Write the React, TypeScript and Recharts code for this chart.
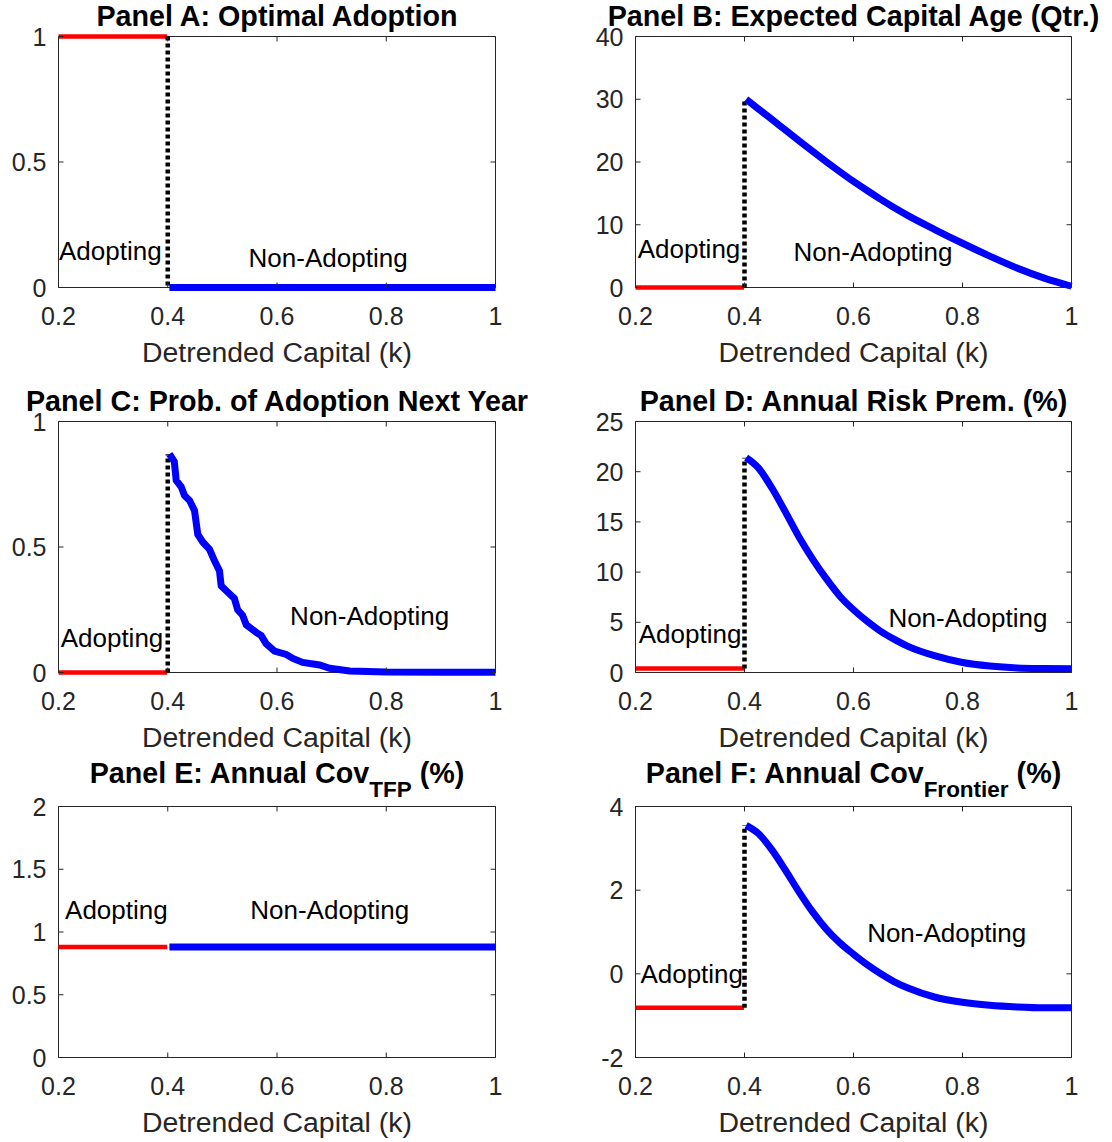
import React from "react";
import { LineChart, Line, XAxis, YAxis, ReferenceArea, ReferenceDot } from "recharts";

// x axis (detrended capital)
const kTicks = [0.2, 0.4, 0.6, 0.8, 1];
const adoptK = [0.2, 0.399];
const jumpK = [0.4, 0.4];
const nonAdoptK = [0.403, 0.425, 0.45, 0.475, 0.5, 0.525, 0.55, 0.575, 0.6, 0.625, 0.65, 0.675, 0.7, 0.75, 0.8, 0.85, 0.9, 0.95, 1];

// Panel A: optimal adoption
const adoptingA = [1, 1];
const jumpA = [1, 0];
const nonAdoptingA = [0, 0, 0, 0, 0, 0, 0, 0, 0, 0, 0, 0, 0, 0, 0, 0, 0, 0, 0];

// Panel B: expected capital age (quarters)
const adoptingB = [0, 0];
const jumpB = [0, 30];
const nonAdoptingB = [30.0, 28.5, 26.8, 25.1, 23.4, 21.7, 20.05, 18.45, 16.9, 15.45, 14.05, 12.7, 11.45, 9.2, 7.05, 5.0, 3.1, 1.5, 0.2];

// Panel C: prob. of adoption next year (own k grid, step-like)
const adoptingC = [0, 0];
const jumpC = [0, 0.87];
const probK = [0.403, 0.4063, 0.412, 0.4155, 0.4246, 0.4307, 0.44, 0.449, 0.455, 0.464, 0.4766, 0.4856, 0.4947, 0.4978, 0.51, 0.522, 0.528, 0.537, 0.5437, 0.562, 0.571, 0.58, 0.5955, 0.617, 0.629, 0.647, 0.678, 0.6965, 0.733, 0.8, 0.9, 1];
const nonAdoptingC = [0.87, 0.86, 0.84, 0.765, 0.74, 0.705, 0.685, 0.645, 0.55, 0.52, 0.49, 0.445, 0.405, 0.345, 0.32, 0.295, 0.25, 0.228, 0.19, 0.16, 0.147, 0.115, 0.085, 0.072, 0.056, 0.04, 0.03, 0.017, 0.006, 0.002, 0.001, 0.001];

// Panel D: annual risk premium (%)
const adoptingD = [0.4, 0.4];
const jumpD = [0.4, 21.4];
const nonAdoptingD = [21.4, 20.4, 18.4, 16.0, 13.5, 11.3, 9.35, 7.6, 6.25, 5.1, 4.1, 3.3, 2.6, 1.65, 1.0, 0.65, 0.46, 0.4, 0.38];

// Panel E: annual cov with TFP (%)
const adoptingE = [0.88, 0.88];
const jumpE = [0.88, 0.88];
const nonAdoptingE = [0.88, 0.88, 0.88, 0.88, 0.88, 0.88, 0.88, 0.88, 0.88, 0.88, 0.88, 0.88, 0.88, 0.88, 0.88, 0.88, 0.88, 0.88, 0.88];

// Panel F: annual cov with frontier (%)
const adoptingF = [-0.81, -0.81];
const jumpF = [-0.81, 3.55];
const nonAdoptingF = [3.55, 3.36, 2.97, 2.48, 1.96, 1.48, 1.07, 0.74, 0.47, 0.22, 0.0, -0.19, -0.34, -0.56, -0.68, -0.75, -0.79, -0.81, -0.81];

const FONT = '"Liberation Sans", Arial, Helvetica, sans-serif';
const AXIS = "#262626";
const COL_W = 556;
const ROW_H = 385;
const PLOT_TOP = 36.5;
const PLOT_H = 251;

const zip = (ks: number[], vs: number[]) => ks.map((k, i) => ({ k, v: vs[i] }));

type Spec = {
  col: number;
  row: number;
  title: string;
  sub?: string;
  tail?: string;
  yDomain: [number, number];
  yTicks: number[];
  adopting: number[];
  jump: number[];
  nonK: number[];
  non: number[];
  curve: "linear" | "monotone";
  adoptAt: [number, number];
  nonAt: [number, number];
};

const panels: Spec[] = [
  { col: 0, row: 0, title: "Panel A: Optimal Adoption", yDomain: [0, 1], yTicks: [0, 0.5, 1], adopting: adoptingA, jump: jumpA, nonK: nonAdoptK, non: nonAdoptingA, curve: "linear", adoptAt: [0.201, 0.147], nonAt: [0.548, 0.12] },
  { col: 1, row: 0, title: "Panel B: Expected Capital Age (Qtr.)", yDomain: [0, 40], yTicks: [0, 10, 20, 30, 40], adopting: adoptingB, jump: jumpB, nonK: nonAdoptK, non: nonAdoptingB, curve: "monotone", adoptAt: [0.204, 6.1], nonAt: [0.49, 5.7] },
  { col: 0, row: 1, title: "Panel C: Prob. of Adoption Next Year", yDomain: [0, 1], yTicks: [0, 0.5, 1], adopting: adoptingC, jump: jumpC, nonK: probK, non: nonAdoptingC, curve: "linear", adoptAt: [0.204, 0.14], nonAt: [0.624, 0.225] },
  { col: 1, row: 1, title: "Panel D: Annual Risk Prem. (%)", yDomain: [0, 25], yTicks: [0, 5, 10, 15, 20, 25], adopting: adoptingD, jump: jumpD, nonK: nonAdoptK, non: nonAdoptingD, curve: "monotone", adoptAt: [0.206, 3.85], nonAt: [0.664, 5.5] },
  { col: 0, row: 2, title: "Panel E: Annual Cov", sub: "TFP", tail: " (%)", yDomain: [0, 2], yTicks: [0, 0.5, 1, 1.5, 2], adopting: adoptingE, jump: jumpE, nonK: nonAdoptK, non: nonAdoptingE, curve: "linear", adoptAt: [0.212, 1.175], nonAt: [0.551, 1.18] },
  { col: 1, row: 2, title: "Panel F: Annual Cov", sub: "Frontier", tail: " (%)", yDomain: [-2, 4], yTicks: [-2, 0, 2, 4], adopting: adoptingF, jump: jumpF, nonK: nonAdoptK, non: nonAdoptingF, curve: "monotone", adoptAt: [0.209, 0.01], nonAt: [0.625, 0.98] },
];

function Panel({ p }: { p: Spec }) {
  const yW = p.col === 0 ? 58.5 : 79.5;
  const pw = p.col === 0 ? 437 : 436;
  const xTick = (props: any) => {
    const { x, y, payload } = props;
    return (
      <g>
        <line x1={x} x2={x} y1={y} y2={y - 5} stroke={AXIS} />
        <line x1={x} x2={x} y1={y - PLOT_H} y2={y - PLOT_H + 5} stroke={AXIS} />
        <text x={x} y={y + 37} textAnchor="middle" fontSize={25} fill={AXIS}>{payload.value}</text>
      </g>
    );
  };
  const yTick = (props: any) => {
    const { x, y, payload } = props;
    return (
      <g>
        <line x1={x} x2={x + 5} y1={y} y2={y} stroke={AXIS} />
        <line x1={x + pw} x2={x + pw - 5} y1={y} y2={y} stroke={AXIS} />
        <text x={x - 12} y={y} dy="0.36em" textAnchor="end" fontSize={25} fill={AXIS}>{payload.value}</text>
      </g>
    );
  };
  const titleY = p.sub ? 13 : 26;
  const annot = { position: "right" as const, offset: 0, fontSize: 26, fill: "#000" };
  return (
    <div style={{ position: "absolute", left: p.col * COL_W, top: p.row * ROW_H, width: COL_W, height: ROW_H }}>
      <LineChart width={COL_W} height={ROW_H} margin={{ top: PLOT_TOP, right: COL_W - yW - pw, bottom: 0, left: 0 }}>
        <XAxis
          type="number"
          dataKey="k"
          domain={[0.2, 1]}
          ticks={kTicks}
          interval={0}
          height={ROW_H - PLOT_TOP - PLOT_H}
          tickSize={0}
          tickMargin={0}
          axisLine={false}
          tick={xTick}
          label={{ value: "Detrended Capital (k)", position: "insideBottom", offset: ROW_H - PLOT_TOP - PLOT_H - 74, fontSize: 28.4, fill: AXIS }}
        />
        <YAxis
          type="number"
          domain={p.yDomain}
          ticks={p.yTicks}
          interval={0}
          width={yW}
          tickSize={0}
          tickMargin={0}
          axisLine={false}
          tick={yTick}
        />
        <ReferenceArea x1={0.2} x2={1} y1={p.yDomain[0]} y2={p.yDomain[1]} fill="none" stroke={AXIS} strokeWidth={1} />
        <Line data={zip(adoptK, p.adopting)} dataKey="v" stroke="#ff0000" strokeWidth={4.5} dot={false} activeDot={false} isAnimationActive={false} type="linear" />
        <Line data={zip(jumpK, p.jump)} dataKey="v" stroke="#000000" strokeWidth={4.5} strokeDasharray="4 3" dot={false} activeDot={false} isAnimationActive={false} type="linear" />
        <Line data={zip(p.nonK, p.non)} dataKey="v" stroke="#0000ff" strokeWidth={7} dot={false} activeDot={false} isAnimationActive={false} type={p.curve} />
        <ReferenceDot x={p.adoptAt[0]} y={p.adoptAt[1]} r={0} fill="none" stroke="none" label={{ value: "Adopting", ...annot }} />
        <ReferenceDot x={p.nonAt[0]} y={p.nonAt[1]} r={0} fill="none" stroke="none" label={{ value: "Non-Adopting", ...annot }} />
      </LineChart>
      <svg width={COL_W} height={40} style={{ position: "absolute", left: 0, top: 0, overflow: "visible" }}>
        <text x={yW + pw / 2} y={titleY} textAnchor="middle" fontSize={28.7} fontWeight="bold" fill="#000">
          <tspan>{p.title}</tspan>
          {p.sub && <tspan dy={14} fontSize={22.5}>{p.sub}</tspan>}
          {p.tail && <tspan dy={-14}>{p.tail}</tspan>}
        </text>
      </svg>
    </div>
  );
}

export default function App() {
  return (
    <div style={{ position: "absolute", left: 0, top: 0, width: 1112, height: 1142, overflow: "hidden", background: "#fff", fontFamily: FONT }}>
      {panels.map((p) => (
        <Panel key={p.title} p={p} />
      ))}
    </div>
  );
}
